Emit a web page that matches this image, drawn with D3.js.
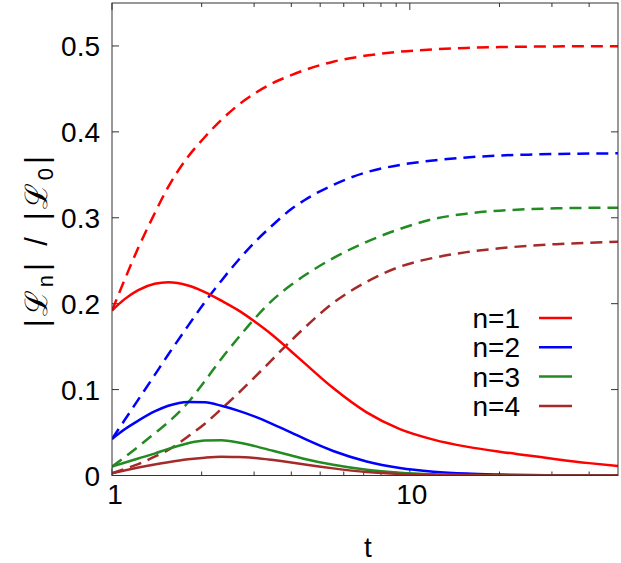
<!DOCTYPE html>
<html>
<head>
<meta charset="utf-8">
<script src="https://cdn.jsdelivr.net/npm/d3@7"></script>
<style>
  html, body { margin: 0; padding: 0; background: #fff; }
  svg { display: block; font-family: "Liberation Sans", Arial, Helvetica, sans-serif; }
</style>
</head>
<body>
<svg id="chart" width="621" height="563"></svg>
<script>
// ---- data ----
const tValues = [1, 1.1, 1.225, 1.39, 1.545, 1.8, 2.05, 2.33, 2.65, 3.02, 3.43, 4.0, 4.44, 5.53, 7.16, 9.26, 12, 15.5, 20, 25, 31, 40, 50];

// solid curves
const solidN1 = [0.192, 0.205, 0.2157, 0.2232, 0.225, 0.2212, 0.2135, 0.2035, 0.1925, 0.179, 0.1645, 0.1444, 0.1305, 0.1018, 0.0735, 0.0540, 0.0418, 0.0336, 0.0277, 0.0233, 0.019, 0.0144, 0.011];
const solidN2 = [0.0425, 0.0535, 0.0638, 0.0745, 0.0812, 0.0857, 0.0852, 0.0812, 0.0755, 0.0685, 0.0605, 0.0500, 0.0425, 0.0285, 0.0163, 0.0087, 0.0045, 0.0022, 0.0011, 0.0005, 0.0002, 0.0001, 0];
const solidN3 = [0.0103, 0.0148, 0.0198, 0.0255, 0.0310, 0.0376, 0.0408, 0.0410, 0.0385, 0.0342, 0.0292, 0.0232, 0.0192, 0.0124, 0.0066, 0.0032, 0.0014, 0.0006, 0.0002, 0, 0, 0, 0];
const solidN4 = [0.0026, 0.0058, 0.0092, 0.0128, 0.0155, 0.0188, 0.0207, 0.0217, 0.0216, 0.0204, 0.0183, 0.0152, 0.0128, 0.0083, 0.0041, 0.0017, 0.0006, 0.0002, 0, 0, 0, 0, 0];

// dashed curves
const dashedN1 = [0.192, 0.227, 0.265, 0.305, 0.336, 0.371, 0.394, 0.414, 0.431, 0.445, 0.456, 0.466, 0.472, 0.4817, 0.4888, 0.4933, 0.496, 0.4977, 0.4987, 0.4992, 0.4995, 0.4997, 0.4998];
const dashedN2 = [0.0425, 0.064, 0.0883, 0.1168, 0.1408, 0.1742, 0.2018, 0.2268, 0.2503, 0.2719, 0.2901, 0.3101, 0.3207, 0.3383, 0.353, 0.3615, 0.3667, 0.3702, 0.3725, 0.3735, 0.3742, 0.3747, 0.375];
const dashedN3 = [0.0103, 0.021, 0.0336, 0.049, 0.062, 0.085, 0.110, 0.136, 0.160, 0.183, 0.203, 0.222, 0.233, 0.253, 0.272, 0.287, 0.2985, 0.3048, 0.3083, 0.3100, 0.3110, 0.3116, 0.3118];
const dashedN4 = [0.0026, 0.0076, 0.0132, 0.0219, 0.0297, 0.0455, 0.0603, 0.0775, 0.0955, 0.1148, 0.1340, 0.1573, 0.1722, 0.2009, 0.2254, 0.2430, 0.2533, 0.2600, 0.2645, 0.2674, 0.2693, 0.2710, 0.2722];

const seriesNames = ["n=1", "n=2", "n=3", "n=4"];
const seriesColors = ["#ff0000", "#0000ff", "#228b22", "#a52a2a"];
const solidSeries = [solidN1, solidN2, solidN3, solidN4];
const dashedSeries = [dashedN1, dashedN2, dashedN3, dashedN4];

const xTickValues = [1, 10];
const xTickLabels = ["1", "10"];
const yTickValues = [0, 0.1, 0.2, 0.3, 0.4, 0.5];
const yTickLabels = ["0", "0.1", "0.2", "0.3", "0.4", "0.5"];
const xMinorTicks = [2, 3, 4, 5, 6, 7, 8, 9, 20, 30, 40];

// ---- layout ----
const svg = d3.select("#chart");
const pLeft = 112, pRight = 618, pTop = 3, pBottom = 475.5;
const x = d3.scaleLog().domain([1, 50]).range([pLeft, pRight]);
const y = d3.scaleLinear().domain([0, 0.55]).range([pBottom, pTop]);
const axisColor = "#333";
const fontSize = 28;

svg.append("clipPath").attr("id", "clip")
  .append("rect").attr("x", pLeft).attr("y", pTop).attr("width", pRight - pLeft).attr("height", pBottom - pTop);

// ticks (inward, mirrored)
const tickG = svg.append("g").attr("stroke", axisColor).attr("stroke-width", 1);
yTickValues.forEach(v => {
  tickG.append("line").attr("x1", pLeft).attr("x2", pLeft + 7).attr("y1", y(v)).attr("y2", y(v));
  tickG.append("line").attr("x1", pRight).attr("x2", pRight - 7).attr("y1", y(v)).attr("y2", y(v));
});
xTickValues.forEach(v => {
  tickG.append("line").attr("x1", x(v)).attr("x2", x(v)).attr("y1", pBottom).attr("y2", pBottom - 7);
  tickG.append("line").attr("x1", x(v)).attr("x2", x(v)).attr("y1", pTop).attr("y2", pTop + 7);
});
xMinorTicks.forEach(v => {
  tickG.append("line").attr("x1", x(v)).attr("x2", x(v)).attr("y1", pBottom).attr("y2", pBottom - 4);
  tickG.append("line").attr("x1", x(v)).attr("x2", x(v)).attr("y1", pTop).attr("y2", pTop + 4);
});

// tick labels
const labelG = svg.append("g").attr("font-size", fontSize).attr("fill", "#000");
yTickValues.forEach((v, i) => {
  labelG.append("text").attr("x", pLeft - 12).attr("y", y(v)).attr("dy", "0.36em")
    .attr("text-anchor", "end").text(yTickLabels[i]);
});
xTickValues.forEach((v, i) => {
  labelG.append("text").attr("x", x(v) + (i === 0 ? 3 : 2)).attr("y", pBottom + 28)
    .attr("text-anchor", "middle").text(xTickLabels[i]);
});

// axis titles
labelG.append("text").attr("x", 368).attr("y", 557).attr("text-anchor", "middle").text("t");
const yTitle = labelG.append("text")
  .attr("transform", "translate(47,240) rotate(-90)")
  .attr("text-anchor", "middle")
  .attr("font-size", 31)
  .attr("letter-spacing", 3);
yTitle.append("tspan").text("|ℒ");
yTitle.append("tspan").attr("font-size", 22).attr("dy", 6).text("n");
yTitle.append("tspan").attr("dy", -6).attr("dx", 1).text("|");
yTitle.append("tspan").attr("dx", 14).text("/");
yTitle.append("tspan").attr("dx", 14).text("|ℒ");
yTitle.append("tspan").attr("font-size", 22).attr("dy", 6).text("0");
yTitle.append("tspan").attr("dy", -6).attr("dx", 1).text("|");

// curves
const line = d3.line()
  .x(d => x(d[0]))
  .y(d => y(d[1]))
  .curve(d3.curveMonotoneX);

const curves = svg.append("g").attr("clip-path", "url(#clip)").attr("fill", "none").attr("stroke-width", 2.5);
dashedSeries.forEach((vals, i) => {
  curves.append("path")
    .attr("d", line(tValues.map((t, j) => [t, vals[j]])))
    .attr("stroke", seriesColors[i])
    .attr("stroke-dasharray", "12,7");
});
solidSeries.forEach((vals, i) => {
  curves.append("path")
    .attr("d", line(tValues.map((t, j) => [t, vals[j]])))
    .attr("stroke", seriesColors[i]);
});

// border
svg.append("rect").attr("x", pLeft).attr("y", pTop).attr("width", pRight - pLeft).attr("height", pBottom - pTop)
  .attr("fill", "none").attr("stroke", axisColor).attr("stroke-width", 1);

// legend
const legend = svg.append("g");
seriesNames.forEach((name, i) => {
  const ly = 318 + i * 29.3;
  legend.append("text").attr("x", 520).attr("y", ly).attr("dy", "0.36em")
    .attr("text-anchor", "end").attr("font-size", fontSize).text(name);
  legend.append("line").attr("x1", 539).attr("x2", 572).attr("y1", ly).attr("y2", ly)
    .attr("stroke", seriesColors[i]).attr("stroke-width", 2.5);
});
</script>
</body>
</html>
